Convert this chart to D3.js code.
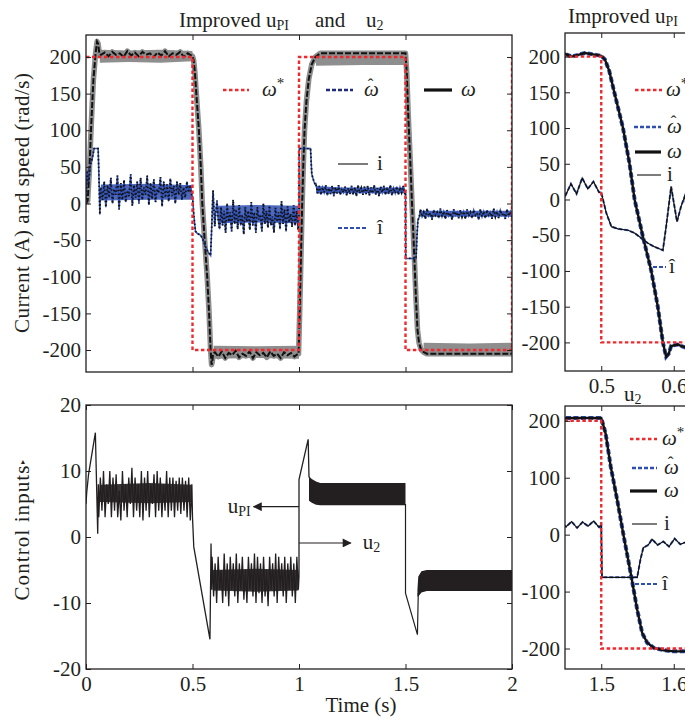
<!DOCTYPE html>
<html>
<head>
<meta charset="utf-8">
<script src="https://cdn.jsdelivr.net/npm/d3@7"></script>
<style>
  body { margin: 0; background: #fff; }
  svg text { font-family: "Liberation Serif", "Times New Roman", serif; fill: #231f20; }
</style>
</head>
<body>
<svg id="fig" width="685" height="723"></svg>
<script>
// ---- data ----

// reference speed w* (step profile)
const refT = [0, 0.5, 0.5, 1.0, 1.0, 1.5, 1.5, 2.0, 2.0];
const refV = [200, 200, -200, -200, 200, 200, -200, -200, 200];

// speed w : transients as [t, value]
const wStart = [[0, 0], [0.008, 4], [0.015, 40], [0.025, 110], [0.035, 170], [0.045, 205], [0.052, 221], [0.057, 218], [0.063, 204]];
const wPlat1 = [203, 206, 201, 207, 203, 205, 200, 208, 202, 206, 201, 207, 203, 205, 200, 206, 202, 208, 201, 205, 203, 207, 200, 205, 202];
const wFall1 = [[0.5, 201], [0.505, 196], [0.511, 180], [0.518, 150], [0.53, 100], [0.539, 50], [0.546, 0], [0.557, -50], [0.569, -100], [0.578, -150], [0.585, -200], [0.5895, -220], [0.593, -216], [0.5964, -205]];
const wPlat2 = [-203, -209, -202, -211, -204, -207, -201, -210, -205, -208, -202, -211, -203, -207, -204, -210, -202, -208, -205, -211, -203, -207, -204, -209, -205];
const wRise2 = [[0.998, -205], [1.003, -150], [1.007, -100], [1.011, -50], [1.015, 0], [1.02, 50], [1.026, 100], [1.035, 140], [1.046, 170], [1.06, 190], [1.077, 200], [1.1, 205]];
const wFall3 = [[1.5, 205], [1.506, 178], [1.513, 120], [1.522, 61], [1.531, -3], [1.5405, -67], [1.5496, -132], [1.5565, -173], [1.5634, -190], [1.5726, -199], [1.586, -203], [1.6, -205], [2.0, -205]];

// noisy speed estimate envelope (grey) as [t, low, high]
const grayBand1 = [[0.065, 192, 210], [0.2, 193, 209], [0.35, 192, 210], [0.5, 194, 208]];
const grayBand2 = [[0.6, -212, -194], [0.8, -211, -195], [1.0, -212, -194]];
const grayBand3 = [[1.08, 188, 204], [1.3, 189, 203], [1.5, 189, 204]];
const grayBand4 = [[1.585, -205, -190], [1.8, -204, -191], [2.0, -205, -190]];

// current i
const iStart = [[0, 0], [0.006, 45], [0.012, 28], [0.02, 52], [0.03, 62], [0.038, 75], [0.057, 75], [0.061, 35], [0.065, -15], [0.068, 20]];
const iNoise1 = [22, 5, 30, -5, 25, 8, 35, 0, 20, 12, 38, -8, 28, 5, 32, 2, 18, 10, 40, -3, 25, 8, 30, 0, 35, 5, 22, 12, 38, -2, 28, 6, 33, 2, 20, 14, 36, -4, 30, 8, 26, 3, 34, 10, 24, 0, 30, 12, 28, 5, 22, 8, 30, 15, 25, 10];
const iFall1 = [[0.5, 10], [0.507, -19], [0.514, -38], [0.523, -41], [0.537, -43], [0.546, -47], [0.555, -54], [0.564, -61], [0.573, -66], [0.585, -71], [0.5895, -38], [0.5964, 18], [0.601, -10], [0.6045, -31], [0.61, -10], [0.615, 4]];
const iNoise2 = [-20, -35, -5, -30, -10, -40, 0, -25, -12, -38, 5, -28, -8, -35, -2, -30, -15, -42, -5, -25, -10, -36, 2, -30, -12, -40, -5, -22, -15, -38, 0, -28, -10, -33, -3, -30, -18, -40, -6, -25, -12, -35, 3, -28, -8, -38, -4, -26, -14, -32, -2, -30, -10, -36];
const iJump2 = [[1.0, -15], [1.001, 75], [1.054, 75], [1.06, 40], [1.07, 30], [1.078, 25]];
const iNoise3 = [26, 14, 24, 12, 22, 15, 25, 11, 21, 13, 24, 10, 22, 14, 25, 12, 20, 15, 23, 11, 21, 13, 24, 12, 22, 10, 25, 14, 21, 12, 23, 13, 24, 11, 22, 14, 25, 12, 21, 10, 23, 15, 24, 12, 22, 13, 25, 11, 21, 14, 23, 12, 22, 15, 24, 13];
const iDrop3 = [[1.5, 18], [1.501, -75], [1.5496, -75], [1.554, -44], [1.558, -23], [1.565, -18]];
const iNoise4 = [-8, -18, -12, -21, -7, -17, -13, -22, -9, -16, -12, -20, -7, -18, -11, -21, -9, -17, -13, -22, -8, -16, -12, -20, -9, -18, -11, -21, -8, -17, -12, -20, -9, -16, -13, -22, -8, -18, -11, -20, -9, -17, -12, -21, -7, -18, -11, -20, -9, -16, -13, -21, -8, -17, -11, -19];
// dense core of the current trace in the overview panel, as [t, low, high]
const iCore1 = [[0.07, 4, 26], [0.3, 5, 27], [0.497, 5, 25]];
const iCore2 = [[0.62, -27, -3], [0.8, -26, -2], [0.996, -27, -3]];
const iCore3 = [[1.08, 14, 24], [1.2, 14, 22], [1.497, 14, 22]];
const iCore4 = [[1.57, -18, -10], [1.8, -18, -10], [2.0, -18, -10]];

// control input u
const uStart = [[0, 5], [0.003, 6.6], [0.012, 9.5], [0.044, 15.8], [0.055, 0.5], [0.058, 8]];
const uNoise1 = [3, 9, 4, 10, 3, 8, 5, 10, 3, 9, 4, 9.5, 3, 7, 2.5, 10, 4, 8, 3, 9, 5, 10.5, 3, 9, 4, 8, 3, 10, 2.5, 9, 4, 10, 3, 8, 5, 9.5, 3, 10, 4, 9, 3, 8, 4, 10, 3, 9, 4, 9, 3, 8.5, 4, 9, 3.5, 9, 4, 8.5, 3, 9, 2.5, 8];
const uFall1 = [[0.5, 3], [0.506, -1.5], [0.582, -15.5], [0.587, -1], [0.59, -8]];
const uNoise2 = [-3, -9, -4, -10, -3, -8, -5, -10, -2.5, -9, -4, -10.5, -3, -8, -4, -9, -2.5, -10, -4, -8, -3, -9.5, -5, -10, -3, -8, -4, -9, -2.5, -10, -3, -8.5, -4, -10, -3, -9, -5, -10.5, -3, -8, -4, -9, -2.5, -10, -3, -8, -4, -9, -3, -10, -4, -8, -3, -9, -4, -10, -3, -8];
const uRise2 = [[1.0, -6], [1.0, 8.7], [1.043, 14.8], [1.047, 9]];
const uCore1 = [[0.065, 5.3, 7.9], [0.3, 5.1, 8.2], [0.497, 5.3, 7.9]];
const uCore2 = [[0.595, -8.1, -5], [0.8, -8.3, -4.8], [0.997, -8.1, -5]];
const uBand3 = [[1.047, 5.5, 9.2], [1.06, 5.2, 8.8], [1.08, 4.9, 8.4], [1.1, 4.8, 8.2], [1.5, 4.8, 8.2]];
const uFall3 = [[1.5, 5], [1.5, -8.5], [1.556, -14.8], [1.56, -8.5]];
const uBand4 = [[1.556, -9, -8], [1.56, -9, -6], [1.575, -8.4, -5.2], [1.6, -8.2, -5], [2.0, -8.2, -5]];

// annotation arrows in the control-input panel: [label, sub, tStart, tEnd, value]
const arrows = [["u", "PI", 1.0, 0.787, 4.6], ["u", "2", 1.0, 1.243, -0.9]];

// ---- helpers ----
function spread(vals, t0, t1) {
  const tx = d3.scaleLinear().domain([0, vals.length - 1]).range([t0, t1]);
  return vals.map((v, k) => [tx(k), v]);
}

const wSeries = [].concat(wStart, spread(wPlat1, 0.07, 0.495), wFall1, spread(wPlat2, 0.605, 0.995), wRise2, wFall3);
const refSeries = refT.map((t, k) => [t, refV[k]]);
const iSeries = [].concat(iStart, spread(iNoise1, 0.07, 0.497), iFall1, spread(iNoise2, 0.62, 0.996),
  iJump2, spread(iNoise3, 1.08, 1.497), iDrop3, spread(iNoise4, 1.57, 2.0));
const uPieceA = [].concat(uStart, spread(uNoise1, 0.06, 0.497), uFall1, spread(uNoise2, 0.592, 0.997), uRise2);

const RED = "#ee2a2e", BLUE = "#2f4fb0", NAVY = "#1e2b7c", GREY = "#8e8e8e", INK = "#231f20";
const FS = 21;

const svg = d3.select("#fig");
const defs = svg.append("defs");
defs.append("marker").attr("id", "arr").attr("viewBox", "0 0 10 10")
  .attr("refX", 9).attr("refY", 5).attr("markerWidth", 13).attr("markerHeight", 9)
  .attr("markerUnits", "userSpaceOnUse").attr("orient", "auto")
  .append("path").attr("d", "M0,0 L10,5 L0,10 Z").attr("fill", INK);

function makePanel(o) {
  const x = d3.scaleLinear().domain(o.xd).range([o.l, o.r]);
  const y = d3.scaleLinear().domain(o.yd).range([o.b, o.t]);
  defs.append("clipPath").attr("id", "c" + o.name).append("rect")
    .attr("x", o.l).attr("y", o.t).attr("width", o.r - o.l).attr("height", o.b - o.t);
  const plot = svg.append("g").attr("clip-path", `url(#c${o.name})`);
  const ax = svg.append("g");
  const fmt = d => String(d);

  ax.append("g").attr("transform", `translate(${o.l},0)`)
    .call(d3.axisLeft(y).tickValues(o.yt).tickSize(-5).tickPadding(5).tickFormat(fmt));
  ax.append("g").attr("transform", `translate(${o.r},0)`)
    .call(d3.axisRight(y).tickValues(o.yt).tickSize(-5).tickFormat(""));
  ax.append("g").attr("transform", `translate(0,${o.b})`)
    .call(d3.axisBottom(x).tickValues(o.xt).tickSize(-5).tickPadding(7).tickFormat(o.xlabels ? fmt : ""));
  ax.append("g").attr("transform", `translate(0,${o.t})`)
    .call(d3.axisTop(x).tickValues(o.xt).tickSize(-5).tickFormat(""));
  ax.selectAll(".domain").remove();
  ax.selectAll(".tick line").attr("stroke", INK).attr("stroke-width", 1);
  ax.selectAll(".tick text").attr("font-size", FS).attr("font-family", "Liberation Serif").attr("fill", INK);
  ax.append("rect").attr("x", o.l).attr("y", o.t).attr("width", o.r - o.l).attr("height", o.b - o.t)
    .attr("fill", "none").attr("stroke", INK).attr("stroke-width", 1.3);

  const line = d3.line().x(d => x(d[0])).y(d => y(d[1]));
  const band = d3.area().x(d => x(d[0])).y0(d => y(d[1])).y1(d => y(d[2]));
  return { x, y, plot, line, band, o };
}

function speedCurrentPanel(p, detail) {
  const { plot, line, band } = p;
  if (!detail) {
    [grayBand1, grayBand2, grayBand3, grayBand4].forEach(b =>
      plot.append("path").attr("d", band(b)).attr("fill", GREY));
    plot.append("path").attr("d", line(wSeries)).attr("fill", "none")
      .attr("stroke", GREY).attr("stroke-width", 5.5).attr("stroke-linejoin", "round");
    plot.append("path").attr("d", line(wSeries)).attr("fill", "none")
      .attr("stroke", "#111").attr("stroke-width", 2).attr("stroke-dasharray", "6,2");
    [iCore1, iCore2, iCore3, iCore4].forEach(b =>
      plot.append("path").attr("d", band(b)).attr("fill", BLUE).attr("fill-opacity", 0.85));
    plot.append("path").attr("d", line(iSeries)).attr("fill", "none")
      .attr("stroke", BLUE).attr("stroke-width", 1.5);
    plot.append("path").attr("d", line(iSeries)).attr("fill", "none")
      .attr("stroke", "#111").attr("stroke-width", 1.8).attr("stroke-dasharray", "1.4,2.4");
  } else {
    plot.append("path").attr("d", line(wSeries)).attr("fill", "none")
      .attr("stroke", BLUE).attr("stroke-width", 4).attr("stroke-dasharray", "5,2.5");
    plot.append("path").attr("d", line(wSeries)).attr("fill", "none")
      .attr("stroke", "#111").attr("stroke-width", 2.4);
    plot.append("path").attr("d", line(iSeries)).attr("fill", "none")
      .attr("stroke", BLUE).attr("stroke-width", 2).attr("stroke-dasharray", "4,2");
    plot.append("path").attr("d", line(iSeries)).attr("fill", "none")
      .attr("stroke", "#111").attr("stroke-width", 1.2);
  }
  plot.append("path").attr("d", line(refSeries)).attr("fill", "none")
    .attr("stroke", RED).attr("stroke-width", 2.4).attr("stroke-dasharray", "3.5,2.5");
}

// legend entry: kind, x1, x2, y, labelX
function legendItem(kind, x1, x2, ly, lx) {
  const st = {
    ref: [RED, 2.4, "3.5,2.5"], west: [NAVY, 2.4, "4,2"], westb: [BLUE, 2.4, "4,2"],
    w: ["#111", 3.2, null], i: ["#111", 1.1, null], ihat: [BLUE, 2.2, "4,2"]
  }[kind];
  svg.append("line").attr("x1", x1).attr("x2", x2).attr("y1", ly).attr("y2", ly)
    .attr("stroke", st[0]).attr("stroke-width", st[1]).attr("stroke-dasharray", st[2]);
  const t = svg.append("text").attr("x", lx).attr("y", ly + 6).attr("font-size", 21);
  if (kind === "ref") {
    t.append("tspan").attr("font-style", "italic").text("ω");
    t.append("tspan").attr("font-size", 15).attr("dy", -8).text("*");
  } else if (kind === "west" || kind === "westb") {
    t.append("tspan").attr("font-style", "italic").text("ω");
    t.append("tspan").attr("dx", -11).attr("dy", -6).attr("font-size", 17).text("ˆ");
  } else if (kind === "w") {
    t.append("tspan").attr("font-style", "italic").text("ω");
  } else if (kind === "i") {
    t.text("i");
  } else {
    t.text("î");
  }
}

// ---- panels ----
const pTL = makePanel({ name: "tl", l: 86, r: 512, t: 35, b: 372, xd: [0, 2], yd: [-230, 230],
  xt: [0.5, 1, 1.5], yt: d3.range(-200, 201, 50), xlabels: false });
const pBL = makePanel({ name: "bl", l: 86, r: 512, t: 405, b: 669, xd: [0, 2], yd: [-20, 20],
  xt: [0, 0.5, 1, 1.5, 2], yt: [-20, -10, 0, 10, 20], xlabels: true });
const pTR = makePanel({ name: "tr", l: 565, r: 710, t: 33, b: 371, xd: [0.45, 0.65], yd: [-240, 233],
  xt: [0.5, 0.6], yt: d3.range(-200, 201, 50), xlabels: true });
const pBR = makePanel({ name: "br", l: 565, r: 710, t: 406, b: 669, xd: [1.45, 1.65], yd: [-236, 226],
  xt: [1.5, 1.6], yt: [-200, -100, 0, 100, 200], xlabels: true });

speedCurrentPanel(pTL, false);
speedCurrentPanel(pTR, true);
speedCurrentPanel(pBR, true);

// control input panel
[uCore1, uCore2].forEach(b =>
  pBL.plot.append("path").attr("d", pBL.band(b)).attr("fill", INK).attr("fill-opacity", 0.9));
[uBand3, uBand4].forEach(b =>
  pBL.plot.append("path").attr("d", pBL.band(b)).attr("fill", INK));
pBL.plot.append("path").attr("d", pBL.line(uPieceA)).attr("fill", "none")
  .attr("stroke", INK).attr("stroke-width", 1.3);
pBL.plot.append("path").attr("d", pBL.line(uFall3)).attr("fill", "none")
  .attr("stroke", INK).attr("stroke-width", 1.2);

arrows.forEach(([lab, sub, t0, t1, v]) => {
  const y0 = pBL.y(v);
  svg.append("line").attr("x1", pBL.x(t0)).attr("x2", pBL.x(t1)).attr("y1", y0).attr("y2", y0)
    .attr("stroke", INK).attr("stroke-width", 1.1).attr("marker-end", "url(#arr)");
  const left = t1 < t0;
  const tx = svg.append("text").attr("x", left ? pBL.x(t1) - 3 : pBL.x(t1) + 12).attr("y", y0 + 6)
    .attr("font-size", FS).attr("text-anchor", left ? "end" : "start");
  tx.append("tspan").text(lab);
  tx.append("tspan").attr("font-size", 14).attr("dy", 3).text(sub);
});

// legends
legendItem("ref", 223, 249, 90, 262);
legendItem("west", 326, 353, 90, 364);
legendItem("w", 424, 452, 90, 461);
legendItem("i", 338, 368, 164, 377);
legendItem("ihat", 338, 367, 228, 377);

legendItem("ref", 635, 662, 90, 666);
legendItem("westb", 634, 661, 127, 667);
legendItem("w", 635, 661, 152, 667);
legendItem("i", 637, 661, 175, 667);
legendItem("ihat", 653, 666, 267, 669);

legendItem("ref", 630, 657, 439, 662);
legendItem("westb", 632, 657, 468, 664);
legendItem("w", 630, 657, 491, 664);
legendItem("i", 632, 657, 524, 664);
legendItem("ihat", 635, 657, 584, 662);

// titles and axis labels
const t1 = svg.append("text").attr("x", 179).attr("y", 27).attr("font-size", FS);
t1.append("tspan").text("Improved u");
t1.append("tspan").attr("font-size", 14).attr("dy", 3).text("PI");
t1.append("tspan").attr("x", 315).attr("dy", -3).text("and");
t1.append("tspan").attr("x", 366).text("u");
t1.append("tspan").attr("font-size", 14).attr("dy", 3).text("2");

const t2 = svg.append("text").attr("x", 568).attr("y", 23).attr("font-size", FS);
t2.append("tspan").text("Improved u");
t2.append("tspan").attr("font-size", 14).attr("dy", 3).text("PI");

const t3 = svg.append("text").attr("x", 624).attr("y", 401).attr("font-size", FS);
t3.append("tspan").text("u");
t3.append("tspan").attr("font-size", 14).attr("dy", 3).text("2");

svg.append("text").attr("transform", "translate(29,203) rotate(-90)").attr("text-anchor", "middle")
  .attr("font-size", FS).attr("textLength", 260).attr("lengthAdjust", "spacing")
  .text("Current (A) and speed (rad/s)");
svg.append("text").attr("transform", "translate(29,533) rotate(-90)").attr("text-anchor", "middle")
  .attr("font-size", FS).attr("textLength", 135).attr("lengthAdjust", "spacing")
  .text("Control inputs");
svg.append("text").attr("transform", "translate(25,462) rotate(-90)").attr("text-anchor", "middle")
  .attr("font-size", 8).text("▸");
svg.append("text").attr("x", 361).attr("y", 712).attr("text-anchor", "middle")
  .attr("font-size", FS).text("Time (s)");
</script>
</body>
</html>
